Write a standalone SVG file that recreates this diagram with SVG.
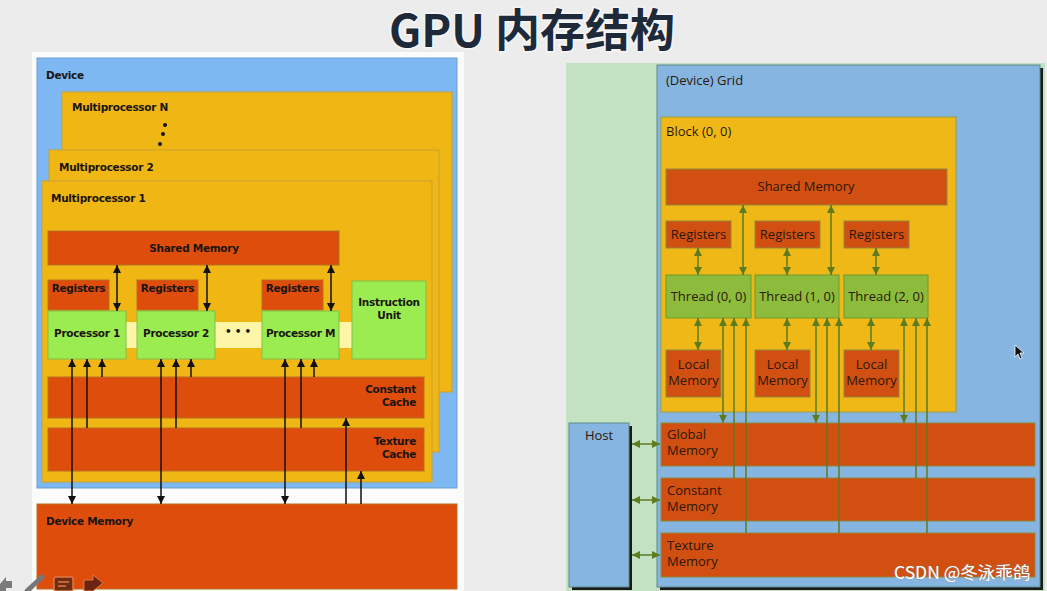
<svg xmlns="http://www.w3.org/2000/svg" width="1047" height="591" viewBox="0 0 1047 591">
<defs>
<style>
.lt{font-family:"DejaVu Sans","Liberation Sans",sans-serif;font-weight:bold;font-size:10.5px;letter-spacing:-0.3px;fill:#1a1410}
.rt{font-family:"Open Sans","Liberation Sans",sans-serif;font-size:13px;fill:#2a1808}
.lblue{fill:#7db8f2;stroke:#6a9fd0;stroke-width:1}
.lyel{fill:#f0b614;stroke:#c9a034;stroke-width:1}
.lor{fill:#de4d0c;stroke:#b8701e;stroke-width:1}
.lgr{fill:#9bec50;stroke:#7fbf48;stroke-width:1}
.rblue{fill:#86b5e1;stroke:#5c8a8a;stroke-width:1}
.ryel{fill:#f0b817;stroke:#9aa040;stroke-width:1}
.ror{fill:#d24f12;stroke:#8f8a3a;stroke-width:1}
.rgr{fill:#8dbb3c;stroke:#6f9a2c;stroke-width:1}
.cb{stroke:#111;stroke-width:1.5;fill:none}
.cg{stroke:#5d7b1f;stroke-width:1.5;fill:none}
.mid{text-anchor:middle}
.end{text-anchor:end}
</style>
<marker id="ab" viewBox="0 0 10 10" refX="10" refY="5" markerWidth="8" markerHeight="8" markerUnits="userSpaceOnUse" orient="auto-start-reverse"><path d="M0,0 L10,5 L0,10 z" fill="#111"/></marker>
<marker id="ag" viewBox="0 0 10 10" refX="10" refY="5" markerWidth="8" markerHeight="8" markerUnits="userSpaceOnUse" orient="auto-start-reverse"><path d="M0,0 L10,5 L0,10 z" fill="#5d7b1f"/></marker>
</defs>

<rect x="0" y="0" width="1047" height="591" fill="#ececec"/>

<!-- title -->
<text x="532" y="47" text-anchor="middle" font-family="'Noto Sans CJK SC','Noto Sans',sans-serif" font-weight="bold" font-size="45" fill="#1e2a3a" stroke="#f6f6f6" stroke-width="3" paint-order="stroke">GPU 内存结构</text>

<!-- LEFT PANEL -->
<rect x="32" y="52" width="432" height="539" fill="#fbfbfb"/>

<g id="device">
<rect class="lblue" x="37" y="58" width="420" height="430"/>
<text class="lt" x="46" y="79">Device</text>
</g>
<g id="mpN">
<rect class="lyel" x="62" y="92" width="390" height="300"/>
<text class="lt" x="72" y="111">Multiprocessor N</text>
<circle cx="165" cy="125" r="2" fill="#111"/>
<circle cx="163" cy="134" r="2" fill="#111"/>
<circle cx="160" cy="144" r="2" fill="#111"/>
</g>
<g id="mp2">
<rect class="lyel" x="49" y="150" width="390" height="302"/>
<text class="lt" x="59" y="171">Multiprocessor 2</text>
</g>
<g id="mp1">
<rect class="lyel" x="42" y="181" width="390" height="301"/>
<text class="lt" x="51" y="202">Multiprocessor 1</text>
</g>
<g id="lshared">
<rect class="lor" x="48" y="231" width="291" height="34"/>
<text class="lt mid" x="194" y="252">Shared Memory</text>
</g>
<rect x="124" y="322" width="230" height="26" fill="#fdf6a6"/>
<text class="lt mid" x="238" y="335" font-size="12">• • •</text>
<g id="lreg1">
<rect class="lor" x="48" y="280" width="61" height="30"/>
<text class="lt mid" x="78.5" y="292">Registers</text>
</g>
<g id="lreg2">
<rect class="lor" x="137" y="280" width="61" height="30"/>
<text class="lt mid" x="167.5" y="292">Registers</text>
</g>
<g id="lregM">
<rect class="lor" x="262" y="280" width="61" height="30"/>
<text class="lt mid" x="292.5" y="292">Registers</text>
</g>
<g id="proc1">
<rect class="lgr" x="48" y="311" width="78" height="48"/>
<text class="lt mid" x="87" y="337">Processor 1</text>
</g>
<g id="proc2">
<rect class="lgr" x="137" y="311" width="78" height="48"/>
<text class="lt mid" x="176" y="337">Processor 2</text>
</g>
<g id="procM">
<rect class="lgr" x="262" y="311" width="77" height="48"/>
<text class="lt mid" x="300.5" y="337">Processor M</text>
</g>
<g id="instr">
<rect class="lgr" x="352" y="281" width="74" height="78"/>
<text class="lt mid" x="389" y="306">Instruction</text>
<text class="lt mid" x="389" y="319">Unit</text>
</g>
<g id="constcache">
<rect class="lor" x="48" y="377" width="376" height="41"/>
<text class="lt end" x="416" y="393">Constant</text>
<text class="lt end" x="416" y="406">Cache</text>
</g>
<g id="texcache">
<rect class="lor" x="48" y="428" width="376" height="43"/>
<text class="lt end" x="416" y="445">Texture</text>
<text class="lt end" x="416" y="458">Cache</text>
</g>
<g id="devmem">
<rect class="lor" x="37" y="504" width="420" height="85"/>
<text class="lt" x="46" y="525">Device Memory</text>
</g>

<g id="left-connectors">
<line class="cb" x1="117" y1="265" x2="117" y2="311" marker-start="url(#ab)" marker-end="url(#ab)"/>
<line class="cb" x1="207" y1="265" x2="207" y2="311" marker-start="url(#ab)" marker-end="url(#ab)"/>
<line class="cb" x1="331" y1="265" x2="331" y2="311" marker-start="url(#ab)" marker-end="url(#ab)"/>
<line class="cb" x1="72" y1="359" x2="72" y2="504" marker-start="url(#ab)" marker-end="url(#ab)"/>
<line class="cb" x1="161" y1="359" x2="161" y2="504" marker-start="url(#ab)" marker-end="url(#ab)"/>
<line class="cb" x1="285" y1="359" x2="285" y2="504" marker-start="url(#ab)" marker-end="url(#ab)"/>
<line class="cb" x1="87" y1="428" x2="87" y2="359" marker-end="url(#ab)"/>
<line class="cb" x1="176" y1="428" x2="176" y2="359" marker-end="url(#ab)"/>
<line class="cb" x1="301" y1="428" x2="301" y2="359" marker-end="url(#ab)"/>
<line class="cb" x1="102" y1="377" x2="102" y2="359" marker-end="url(#ab)"/>
<line class="cb" x1="191" y1="377" x2="191" y2="359" marker-end="url(#ab)"/>
<line class="cb" x1="314" y1="377" x2="314" y2="359" marker-end="url(#ab)"/>
<line class="cb" x1="346" y1="504" x2="346" y2="418" marker-end="url(#ab)"/>
<line class="cb" x1="361" y1="504" x2="361" y2="471" marker-end="url(#ab)"/>
</g>

<!-- viewer icons -->
<polygon points="0,584 6,577 6,581 12,581 12,588 6,588 6,591 0,591" fill="#7a7a7a"/>
<line x1="27" y1="591" x2="42" y2="577" stroke="#777" stroke-width="5" stroke-linecap="round"/>
<rect x="54" y="577" width="19" height="14" rx="2" fill="#6e2c12" stroke="#e0784a" stroke-width="1.5"/>
<line x1="58" y1="582" x2="69" y2="582" stroke="#e0784a" stroke-width="1.5"/>
<line x1="58" y1="586" x2="66" y2="586" stroke="#e0784a" stroke-width="1.5"/>
<polygon points="84,580 93,580 93,575 103,583 93,591 84,591" fill="#6a2410" stroke="#e0784a" stroke-width="1"/>

<!-- RIGHT PANEL -->
<rect x="566" y="63" width="479" height="528" fill="#c3e2c3"/>

<g id="grid">
<rect x="660" y="68" width="383" height="522" fill="#1a1a1a"/>
<rect class="rblue" x="657" y="65" width="383" height="522"/>
<text class="rt" x="666" y="85">(Device) Grid</text>
</g>
<g id="block">
<rect class="ryel" x="661" y="117" width="295" height="295"/>
<text class="rt" x="666" y="136">Block (0, 0)</text>
</g>
<g id="rshared">
<rect class="ror" x="666" y="169" width="281" height="36"/>
<text class="rt mid" x="806" y="191">Shared Memory</text>
</g>
<g id="rreg0">
<rect class="ror" x="666" y="221" width="65" height="27"/>
<text class="rt mid" x="698.5" y="239">Registers</text>
</g>
<g id="rreg1">
<rect class="ror" x="755" y="221" width="65" height="27"/>
<text class="rt mid" x="787.5" y="239">Registers</text>
</g>
<g id="rreg2">
<rect class="ror" x="844" y="221" width="65" height="27"/>
<text class="rt mid" x="876.5" y="239">Registers</text>
</g>
<g id="thread0">
<rect class="rgr" x="666" y="275" width="85" height="43"/>
<text class="rt mid" x="708.5" y="301">Thread (0, 0)</text>
</g>
<g id="thread1">
<rect class="rgr" x="755" y="275" width="84" height="43"/>
<text class="rt mid" x="797" y="301">Thread (1, 0)</text>
</g>
<g id="thread2">
<rect class="rgr" x="844" y="275" width="84" height="43"/>
<text class="rt mid" x="886" y="301">Thread (2, 0)</text>
</g>
<g id="local0">
<rect class="ror" x="666" y="350" width="55" height="47"/>
<text class="rt mid" x="693.5" y="369">Local</text>
<text class="rt mid" x="693.5" y="385">Memory</text>
</g>
<g id="local1">
<rect class="ror" x="755" y="350" width="55" height="47"/>
<text class="rt mid" x="782.5" y="369">Local</text>
<text class="rt mid" x="782.5" y="385">Memory</text>
</g>
<g id="local2">
<rect class="ror" x="844" y="350" width="55" height="47"/>
<text class="rt mid" x="871.5" y="369">Local</text>
<text class="rt mid" x="871.5" y="385">Memory</text>
</g>
<g id="globalmem">
<rect class="ror" x="661" y="423" width="374" height="43"/>
<text class="rt" x="667" y="439">Global</text>
<text class="rt" x="667" y="455">Memory</text>
</g>
<g id="constmem">
<rect class="ror" x="661" y="478" width="374" height="43"/>
<text class="rt" x="667" y="495">Constant</text>
<text class="rt" x="667" y="511">Memory</text>
</g>
<g id="texmem">
<rect class="ror" x="661" y="533" width="374" height="44"/>
<text class="rt" x="667" y="550">Texture</text>
<text class="rt" x="667" y="566">Memory</text>
</g>
<g id="host">
<rect x="572" y="426" width="60" height="164" fill="#1a1a1a"/>
<rect class="rblue" x="569" y="423" width="60" height="164"/>
<text class="rt mid" x="599" y="440">Host</text>
</g>

<g id="right-connectors">
<line class="cg" x1="698" y1="248" x2="698" y2="275" marker-start="url(#ag)" marker-end="url(#ag)"/>
<line class="cg" x1="787" y1="248" x2="787" y2="275" marker-start="url(#ag)" marker-end="url(#ag)"/>
<line class="cg" x1="876" y1="248" x2="876" y2="275" marker-start="url(#ag)" marker-end="url(#ag)"/>
<line class="cg" x1="743" y1="205" x2="743" y2="275" marker-start="url(#ag)" marker-end="url(#ag)"/>
<line class="cg" x1="831" y1="205" x2="831" y2="275" marker-start="url(#ag)" marker-end="url(#ag)"/>
<line class="cg" x1="698" y1="318" x2="698" y2="350" marker-start="url(#ag)" marker-end="url(#ag)"/>
<line class="cg" x1="787" y1="318" x2="787" y2="350" marker-start="url(#ag)" marker-end="url(#ag)"/>
<line class="cg" x1="871" y1="318" x2="871" y2="350" marker-start="url(#ag)" marker-end="url(#ag)"/>
<line class="cg" x1="723" y1="318" x2="723" y2="423" marker-start="url(#ag)" marker-end="url(#ag)"/>
<line class="cg" x1="816" y1="318" x2="816" y2="423" marker-start="url(#ag)" marker-end="url(#ag)"/>
<line class="cg" x1="904" y1="318" x2="904" y2="423" marker-start="url(#ag)" marker-end="url(#ag)"/>
<line class="cg" x1="734" y1="478" x2="734" y2="318" marker-end="url(#ag)"/>
<line class="cg" x1="827" y1="478" x2="827" y2="318" marker-end="url(#ag)"/>
<line class="cg" x1="916" y1="478" x2="916" y2="318" marker-end="url(#ag)"/>
<line class="cg" x1="746" y1="533" x2="746" y2="318" marker-end="url(#ag)"/>
<line class="cg" x1="839" y1="533" x2="839" y2="318" marker-end="url(#ag)"/>
<line class="cg" x1="927" y1="533" x2="927" y2="318" marker-end="url(#ag)"/>
<line class="cg" x1="632" y1="444" x2="660" y2="444" marker-start="url(#ag)" marker-end="url(#ag)"/>
<line class="cg" x1="632" y1="500" x2="660" y2="500" marker-start="url(#ag)" marker-end="url(#ag)"/>
<line class="cg" x1="632" y1="555" x2="660" y2="555" marker-start="url(#ag)" marker-end="url(#ag)"/>
</g>

<!-- cursor -->
<polygon points="1015,345 1015,357 1018,354 1020,359 1022,358 1020,353 1024,353" fill="#111" stroke="#fff" stroke-width="0.8"/>

<!-- watermark -->
<text x="894" y="579" font-family="'Noto Sans CJK SC','Liberation Sans',sans-serif" font-size="17.5" fill="#ffffff" stroke="#8a8a8a" stroke-width="0.6" paint-order="stroke">CSDN @冬泳乖鸽</text>
</svg>
